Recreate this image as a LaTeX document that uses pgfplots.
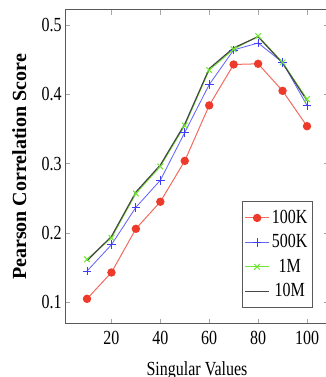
\documentclass[border=0pt]{standalone}
\usepackage{fontspec}
\setmainfont{Liberation Serif}
\newfontfamily\condfont[FakeStretch=0.8]{Liberation Serif}
\usepackage{pgfplots}
\pgfplotsset{compat=1.18}
\definecolor{cRed}{RGB}{238,58,42}
\definecolor{cBlue}{RGB}{60,60,250}
\definecolor{cGreen}{RGB}{110,230,50}
\definecolor{cDark}{RGB}{70,70,70}
\begin{document}
\begin{tikzpicture}
\begin{axis}[
  name=ax,
  scale only axis,
  width=158.4pt, height=188.4pt,
  xmin=1, xmax=109, ymin=0.0687, ymax=0.5216,
  xtick={20,40,60,80,100},
  ytick={0.1,0.2,0.3,0.4,0.5},
  /pgf/number format/assume math mode=true,
  yticklabel style={/pgf/number format/fixed,/pgf/number format/precision=1,/pgf/number format/fixed zerofill,
     inner sep=0pt, xshift=-1.8pt, font=\condfont\fontsize{12}{14}\selectfont},
  xticklabel style={anchor=base, inner sep=0pt, yshift=-12.6pt, font=\condfont\fontsize{12}{14}\selectfont},
  axis line style={draw=black!65, line width=0.6pt},
  major tick style={draw=black!35, line width=0.4pt},
  major tick length=3pt,
  xlabel={Singular Values},
  ylabel={Pearson Correlation Score},
  x label style={at={(axis description cs:0.5,-0.1646)}, anchor=base, inner sep=0pt,
     font=\condfont\fontsize{12}{14}\selectfont},
  y label style={at={(axis description cs:-0.1477,0.5)}, anchor=base, inner sep=0pt,
     font=\bfseries\fontsize{12}{14}\selectfont},
  legend style={at={(axis description cs:0.9394,0.051)}, anchor=south east,
     draw=black!65, line width=0.6pt, inner xsep=1.5pt, inner ysep=3pt, row sep=1.2pt,
     font=\condfont\fontsize{12}{14}\selectfont,
     nodes={inner xsep=1.5pt}},
  legend cell align=center,
  legend image code/.code={\draw[mark repeat=2,mark phase=2,#1] plot coordinates {(0cm,0cm)(0.25cm,0cm)(0.5cm,0cm)};},
  legend image post style={line width=0.6pt},
]
\addplot[color=cRed!75, line width=0.6pt, mark=*, mark size=2.2pt, mark options={fill=cRed, draw=cRed}]
  coordinates {(10,0.105)(20,0.143)(30,0.206)(40,0.245)(50,0.304)(60,0.384)(70,0.443)(80,0.444)(90,0.405)(100,0.354)};
\addlegendentry{100K}
\addplot[color=cBlue!80, line width=0.5pt, mark=+, mark size=2.6pt, mark options={draw=cBlue}]
  coordinates {(10,0.145)(20,0.183)(30,0.237)(40,0.276)(50,0.345)(60,0.414)(70,0.464)(80,0.474)(90,0.446)(100,0.384)};
\addlegendentry{500K}
\addplot[color=cGreen, line width=0.6pt, mark=x, mark size=2.4pt, mark options={draw=cGreen}]
  coordinates {(10,0.162)(20,0.193)(30,0.257)(40,0.296)(50,0.355)(60,0.435)(70,0.465)(80,0.484)(90,0.446)(100,0.393)};
\addlegendentry{1M}
\addplot[color=cDark, line width=0.7pt, mark=none]
  coordinates {(10,0.160)(20,0.195)(30,0.259)(40,0.298)(50,0.357)(60,0.437)(70,0.467)(80,0.483)(90,0.445)(100,0.391)};
\addlegendentry{10M}
\end{axis}
\pgfresetboundingbox
\path[use as bounding box] ([xshift=-39pt,yshift=-31.8pt]ax.south west) rectangle ([xshift=-2.4pt,yshift=6pt]ax.north east);
\end{tikzpicture}
\end{document}
